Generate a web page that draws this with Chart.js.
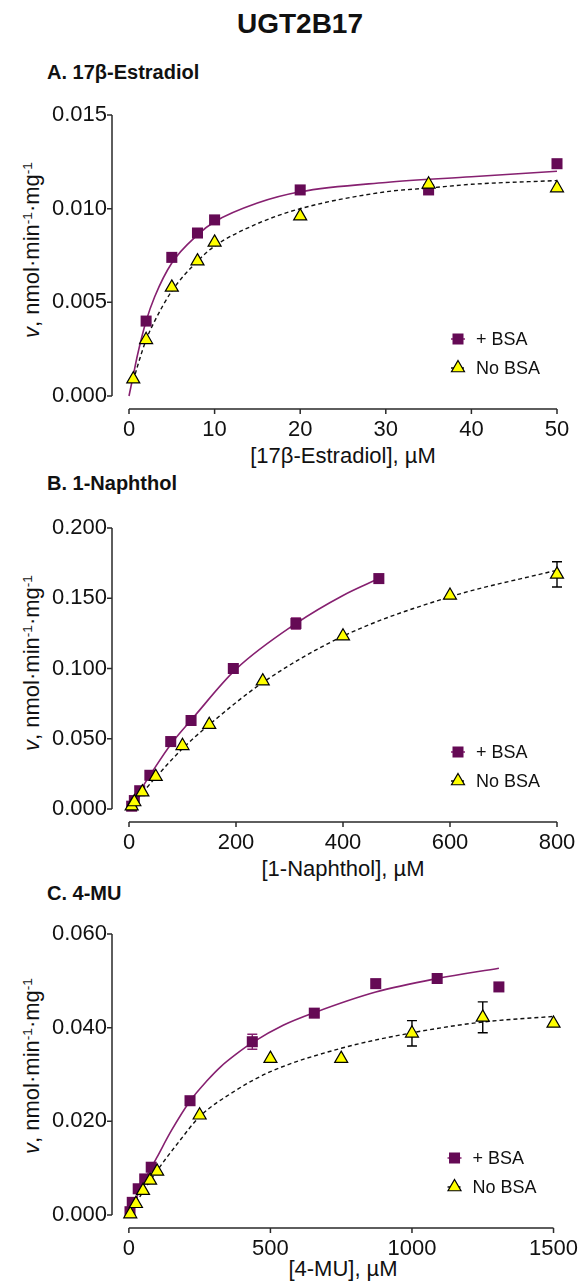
<!DOCTYPE html>
<html>
<head>
<meta charset="utf-8">
<script src="https://cdn.jsdelivr.net/npm/chart.js@4.4.1/dist/chart.umd.min.js"></script>
<style>
  body { margin: 0; background: #fff; font-family: "Liberation Sans", Arial, sans-serif; color: #111; }
  #page { position: relative; width: 586px; height: 1284px; overflow: hidden; }
  .t { position: absolute; white-space: nowrap; line-height: 1; }
  .main { left: 300px; top: 24px; font-size: 28px; font-weight: bold; transform: translate(-50%, -50%); }
  .ptitle { left: 47px; font-size: 20px; font-weight: bold; transform: translateY(-50%); }
  .ytitle { font-size: 22px; transform: translate(-50%, -50%) rotate(-90deg); }
  .ytitle sup { font-size: 0.62em; vertical-align: 0.55em; line-height: 0; }
  .xtitle { font-size: 22px; transform: translate(-50%, -50%); }
  canvas { position: absolute; left: 0; }
</style>
</head>
<body>
<div id="page">
  <div class="t main">UGT2B17</div>

  <div class="t ptitle" style="top:72px">A. 17β-Estradiol</div>
  <div class="t ytitle" style="left:32px; top:250px"><i>v</i>, nmol·min<sup>-1</sup>·mg<sup>-1</sup></div>
  <div class="t xtitle" style="left:343px; top:456px">[17β-Estradiol], µM</div>
  <canvas id="chartA" width="586" height="360" style="top:95px"></canvas>

  <div class="t ptitle" style="top:483px">B. 1-Naphthol</div>
  <div class="t ytitle" style="left:32px; top:663px"><i>v</i>, nmol·min<sup>-1</sup>·mg<sup>-1</sup></div>
  <div class="t xtitle" style="left:343px; top:869px">[1-Naphthol], µM</div>
  <canvas id="chartB" width="586" height="360" style="top:508px"></canvas>

  <div class="t ptitle" style="top:893px">C. 4-MU</div>
  <div class="t ytitle" style="left:32px; top:1066px"><i>v</i>, nmol·min<sup>-1</sup>·mg<sup>-1</sup></div>
  <div class="t xtitle" style="left:343px; top:1269px">[4-MU], µM</div>
  <canvas id="chartC" width="586" height="360" style="top:914px"></canvas>
</div>

<script>
// A. 17β-Estradiol
const estXTicks = [0, 10, 20, 30, 40, 50];
const estYTicks = [0, 0.005, 0.010, 0.015];
const estBsaX = [2, 5, 8, 10, 20, 35, 50];
const estBsaY = [0.0040, 0.0074, 0.0087, 0.0094, 0.0110, 0.0110, 0.0124];
const estNoX = [0.5, 2, 5, 8, 10, 20, 35, 50];
const estNoY = [0.0009, 0.0030, 0.0058, 0.0072, 0.0082, 0.0096, 0.0113, 0.0111];
const estBsaFitX = [0, 0.5, 1, 2, 3, 5, 8, 10, 15, 20, 30, 40, 50];
const estBsaFitY = [0, 0.0011, 0.0022, 0.0040, 0.0053, 0.0071, 0.0086, 0.0093, 0.0103, 0.0109, 0.0114, 0.0117, 0.0120];
const estNoFitX = [0.5, 1, 2, 3, 5, 8, 10, 15, 20, 30, 35, 40, 50];
const estNoFitY = [0.0008, 0.0016, 0.0030, 0.0040, 0.0056, 0.0072, 0.0080, 0.0092, 0.0100, 0.0109, 0.0111, 0.0113, 0.0115];

// B. 1-Naphthol
const napXTicks = [0, 200, 400, 600, 800];
const napYTicks = [0, 0.050, 0.100, 0.150, 0.200];
const napBsaX = [5, 10, 20, 39, 78, 116, 195, 312, 467];
const napBsaY = [0.002, 0.006, 0.013, 0.024, 0.048, 0.063, 0.100, 0.132, 0.164];
const napBsaErr = [0, 0, 0, 0, 0, 0, 0, 0.004, 0];
const napNoX = [5, 10, 25, 50, 100, 150, 250, 400, 600, 800];
const napNoY = [0.002, 0.005, 0.012, 0.023, 0.045, 0.060, 0.091, 0.123, 0.152, 0.167];
const napNoErr = [0, 0, 0, 0, 0, 0, 0, 0, 0, 0.009];
const napBsaFitX = [0, 20, 40, 80, 120, 200, 312, 400, 467];
const napBsaFitY = [0, 0.0125, 0.0245, 0.047, 0.065, 0.0995, 0.132, 0.152, 0.164];
const napNoFitX = [0, 25, 50, 100, 150, 250, 400, 600, 800];
const napNoFitY = [0, 0.0115, 0.0225, 0.043, 0.060, 0.090, 0.123, 0.151, 0.170];

// C. 4-MU
const muXTicks = [0, 500, 1000, 1500];
const muYTicks = [0, 0.020, 0.040, 0.060];
const muBsaX = [4, 12, 33, 56, 79, 216, 436, 655, 872, 1089, 1307];
const muBsaY = [0.0007, 0.0027, 0.0056, 0.0077, 0.0102, 0.0244, 0.0370, 0.0431, 0.0494, 0.0505, 0.0487];
const muBsaErr = [0, 0, 0, 0, 0, 0, 0.0016, 0, 0, 0, 0];
const muNoX = [5, 25, 50, 75, 100, 250, 500, 750, 1000, 1250, 1500];
const muNoY = [0.0002, 0.0024, 0.0052, 0.0074, 0.0093, 0.0213, 0.0334, 0.0334, 0.0388, 0.0422, 0.0409];
const muNoErr = [0, 0, 0, 0, 0, 0, 0, 0, 0.0027, 0.0033, 0];
const muBsaFitX = [0, 50, 100, 150, 218, 275, 325, 380, 436, 545, 655, 872, 1089, 1307];
const muBsaFitY = [0, 0.0068, 0.0124, 0.0180, 0.0245, 0.0286, 0.0317, 0.0344, 0.0368, 0.0405, 0.0432, 0.0476, 0.0505, 0.0527];
const muNoFitX = [0, 25, 50, 100, 175, 250, 375, 500, 750, 1000, 1250, 1500];
const muNoFitY = [0, 0.0025, 0.0050, 0.0095, 0.0155, 0.0210, 0.0265, 0.0306, 0.0356, 0.0389, 0.0412, 0.0424];

const purple = '#650a55';
const purpleLine = '#862070';
const yellow = '#ffff00';

function pts(xs, ys) {
  return xs.map((x, i) => ({ x: x, y: ys[i] }));
}

function drawSquare(ctx, x, y) {
  ctx.fillStyle = purple;
  ctx.fillRect(x - 5.5, y - 5.5, 11, 11);
}

function drawTriangle(ctx, x, y) {
  const r = 7.5;
  ctx.beginPath();
  ctx.moveTo(x, y - r);
  ctx.lineTo(x + r * 0.866, y + r / 2);
  ctx.lineTo(x - r * 0.866, y + r / 2);
  ctx.closePath();
  ctx.fillStyle = yellow;
  ctx.fill();
  ctx.strokeStyle = '#000';
  ctx.lineWidth = 1.2;
  ctx.stroke();
}

// axes drawn GraphPad style (offset from the origin), error bars and legend
function kinPlugin(xTicks, yTicks) {
  return {
    id: 'kin',
    beforeDatasetsDraw(chart) {
      const ctx = chart.ctx, xs = chart.scales.x, ys = chart.scales.y, a = chart.chartArea;
      ctx.save();
      ctx.strokeStyle = '#2a2a2a';
      ctx.lineWidth = 1.5;
      ctx.beginPath();
      ctx.moveTo(a.left, ys.getPixelForValue(yTicks[0]));
      ctx.lineTo(a.left, ys.getPixelForValue(yTicks[yTicks.length - 1]));
      yTicks.forEach(v => {
        const p = ys.getPixelForValue(v);
        ctx.moveTo(a.left - 5, p);
        ctx.lineTo(a.left, p);
      });
      ctx.moveTo(xs.getPixelForValue(xTicks[0]), a.bottom);
      ctx.lineTo(xs.getPixelForValue(xTicks[xTicks.length - 1]), a.bottom);
      xTicks.forEach(v => {
        const p = xs.getPixelForValue(v);
        ctx.moveTo(p, a.bottom);
        ctx.lineTo(p, a.bottom + 5);
      });
      ctx.stroke();

      chart.data.datasets.forEach(ds => {
        if (!ds.yErr) return;
        ctx.strokeStyle = ds.errColor;
        ctx.lineWidth = 1.4;
        ds.data.forEach((p, i) => {
          const e = ds.yErr[i];
          if (!e) return;
          const px = xs.getPixelForValue(p.x);
          const pt = ys.getPixelForValue(p.y + e);
          const pb = ys.getPixelForValue(p.y - e);
          ctx.beginPath();
          ctx.moveTo(px, pt); ctx.lineTo(px, pb);
          ctx.moveTo(px - 5, pt); ctx.lineTo(px + 5, pt);
          ctx.moveTo(px - 5, pb); ctx.lineTo(px + 5, pb);
          ctx.stroke();
        });
      });
      ctx.restore();
    },
    afterDraw(chart) {
      const ctx = chart.ctx, a = chart.chartArea;
      const lx = a.right - 99, ly1 = a.bottom - 70, ly2 = a.bottom - 41;
      ctx.save();
      ctx.strokeStyle = purpleLine;
      ctx.lineWidth = 1.5;
      ctx.beginPath(); ctx.moveTo(lx - 7, ly1); ctx.lineTo(lx + 7, ly1); ctx.stroke();
      drawSquare(ctx, lx, ly1);
      ctx.strokeStyle = '#111';
      ctx.setLineDash([3, 2]);
      ctx.beginPath(); ctx.moveTo(lx - 7, ly2); ctx.lineTo(lx + 7, ly2); ctx.stroke();
      ctx.setLineDash([]);
      drawTriangle(ctx, lx, ly2);
      ctx.fillStyle = '#111';
      ctx.font = '18px "Liberation Sans", Arial, sans-serif';
      ctx.textBaseline = 'middle';
      ctx.fillText('+ BSA', lx + 18, ly1 + 1);
      ctx.fillText('No BSA', lx + 18, ly2 + 1);
      ctx.restore();
    }
  };
}

function makeChart(id, p) {
  const w = 445, h = 294, offX = 17, offY = 13;
  const xMax = p.xTicks[p.xTicks.length - 1];
  const yMax = p.yTicks[p.yTicks.length - 1];
  const tickFont = { family: '"Liberation Sans", Arial, sans-serif', size: 22 };
  new Chart(document.getElementById(id), {
    type: 'scatter',
    data: {
      datasets: [
        {
          data: pts(p.bsaFitX, p.bsaFitY), showLine: true, pointRadius: 0,
          borderColor: purpleLine, borderWidth: 1.6, cubicInterpolationMode: 'monotone',
          order: 3, clip: false
        },
        {
          data: pts(p.noFitX, p.noFitY), showLine: true, pointRadius: 0,
          borderColor: '#111', borderWidth: 1.4, borderDash: [4, 3], cubicInterpolationMode: 'monotone',
          order: 2, clip: false
        },
        {
          label: '+ BSA', data: pts(p.bsaX, p.bsaY), pointStyle: 'rect', pointRadius: 7.8,
          backgroundColor: purple, borderColor: purple, borderWidth: 0,
          yErr: p.bsaErr, errColor: purpleLine, order: 1, clip: false
        },
        {
          label: 'No BSA', data: pts(p.noX, p.noY), pointStyle: 'triangle', pointRadius: 7.5,
          backgroundColor: yellow, borderColor: '#000', borderWidth: 1.2,
          yErr: p.noErr, errColor: '#000', order: 0, clip: false
        }
      ]
    },
    options: {
      responsive: false,
      animation: false,
      events: [],
      layout: { padding: { top: 20, right: 29, left: 0, bottom: 0 } },
      plugins: { legend: { display: false }, tooltip: { enabled: false } },
      scales: {
        x: {
          type: 'linear',
          min: -xMax * offX / (w - offX),
          max: xMax,
          grid: { display: false, drawTicks: false },
          border: { display: false },
          ticks: { font: tickFont, color: '#111', padding: 8, callback: v => String(v) },
          afterBuildTicks: s => { s.ticks = p.xTicks.map(v => ({ value: v })); },
          afterFit: s => { s.height = 360 - 20 - h; }
        },
        y: {
          type: 'linear',
          min: -yMax * offY / (h - offY),
          max: yMax,
          grid: { display: false, drawTicks: false },
          border: { display: false },
          ticks: { font: tickFont, color: '#111', padding: 5, callback: v => v.toFixed(3) },
          afterBuildTicks: s => { s.ticks = p.yTicks.map(v => ({ value: v })); },
          afterFit: s => { s.width = 112; }
        }
      }
    },
    plugins: [kinPlugin(p.xTicks, p.yTicks)]
  });
}

makeChart('chartA', {
  xTicks: estXTicks, yTicks: estYTicks,
  bsaX: estBsaX, bsaY: estBsaY, bsaErr: null,
  noX: estNoX, noY: estNoY, noErr: null,
  bsaFitX: estBsaFitX, bsaFitY: estBsaFitY, noFitX: estNoFitX, noFitY: estNoFitY
});
makeChart('chartB', {
  xTicks: napXTicks, yTicks: napYTicks,
  bsaX: napBsaX, bsaY: napBsaY, bsaErr: napBsaErr,
  noX: napNoX, noY: napNoY, noErr: napNoErr,
  bsaFitX: napBsaFitX, bsaFitY: napBsaFitY, noFitX: napNoFitX, noFitY: napNoFitY
});
makeChart('chartC', {
  xTicks: muXTicks, yTicks: muYTicks,
  bsaX: muBsaX, bsaY: muBsaY, bsaErr: muBsaErr,
  noX: muNoX, noY: muNoY, noErr: muNoErr,
  bsaFitX: muBsaFitX, bsaFitY: muBsaFitY, noFitX: muNoFitX, noFitY: muNoFitY
});
</script>
</body>
</html>
